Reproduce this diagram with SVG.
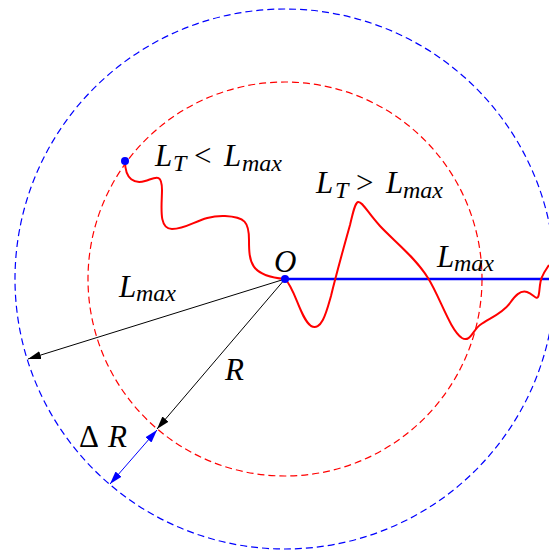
<svg xmlns="http://www.w3.org/2000/svg" width="549" height="551" viewBox="0 0 549 551">
<defs>
<style>
.lbl{font-family:"Liberation Serif","Times New Roman",serif;font-style:italic;font-size:31px;fill:#000}
.sub{font-size:24px}
.up{font-style:normal}
.ring{fill:none;stroke-width:1.2;stroke-dasharray:7,4}
.path{fill:none;stroke:#ff0000;stroke-width:2;stroke-linejoin:round}
</style>
<marker id="ah" markerUnits="userSpaceOnUse" markerWidth="14" markerHeight="10" refX="13" refY="4" orient="auto-start-reverse" viewBox="0 0 14 8">
<path d="M0,0 L13,4 L0,8 z" fill="#000"/>
</marker>
<marker id="ahb" markerUnits="userSpaceOnUse" markerWidth="14" markerHeight="10" refX="13" refY="4" orient="auto-start-reverse" viewBox="0 0 14 8">
<path d="M0,0 L13,4 L0,8 z" fill="#0000ff"/>
</marker>
</defs>
<rect width="549" height="551" fill="#fff"/>
<g id="rings">
<circle class="ring" cx="285" cy="279" r="270" stroke="#0000ff"/>
<circle class="ring" cx="285" cy="279" r="197" stroke="#ff0000"/>
</g>
<g id="connectors">
<line x1="285" y1="279" x2="28" y2="359" stroke="#000" stroke-width="1" marker-end="url(#ah)"/>
<line x1="285" y1="279" x2="157" y2="429" stroke="#000" stroke-width="1" marker-end="url(#ah)"/>
<line x1="157" y1="430" x2="110" y2="484" stroke="#0000ff" stroke-width="1" marker-start="url(#ahb)" marker-end="url(#ahb)"/>
<line x1="285" y1="279" x2="549" y2="279" stroke="#0000ff" stroke-width="2.5"/>
<path class="path" d="M125,161 C125,180 135,184 145,181 C155,178 162,172 162,190 C162,205 158,229 172,229 C190,229 200,215 225,216 C245,217 249,222 249,240 C249,262 250,276 285,279"/>
<path class="path" d="M285,279 C295,288 300,318 311,326 C322,332 327,310 331,296 C336,275 343,250 350,225 C353,212 355,203 358,202 C362,201 368,213 380,226 C395,242 415,257 428,278 C440,297 450,330 462,338 C470,343 473,330 480,325 C490,318 503,313 510,303 C515,296 520,290 527,292 C533,294 536,300 538,297 C540,294 539,283 542,277 C544,272 547,268 549,265"/>
</g>
<g id="node-O">
<circle cx="285" cy="279" r="4" fill="#0000ff"/>
<text class="lbl" x="274" y="272">O</text>
</g>
<g id="node-end">
<circle cx="125" cy="161" r="4" fill="#0000ff"/>
</g>
<g id="label-lt-less">
<text class="lbl" x="155" y="166">L<tspan class="sub" x="173" y="171">T</tspan><tspan class="up" x="194" y="166">&lt;</tspan><tspan x="224" y="166">L</tspan><tspan class="sub" x="242" y="171">max</tspan></text>
</g>
<g id="label-lt-greater">
<text class="lbl" x="316" y="193">L<tspan class="sub" x="335" y="198">T</tspan><tspan class="up" x="356" y="193">&gt;</tspan><tspan x="386" y="193">L</tspan><tspan class="sub" x="403" y="198">max</tspan></text>
</g>
<g id="label-lmax-right">
<text class="lbl" x="437" y="267">L<tspan class="sub" x="454" y="271">max</tspan></text>
</g>
<g id="label-lmax-left">
<text class="lbl" x="119" y="297">L<tspan class="sub" x="136" y="301">max</tspan></text>
</g>
<g id="label-R">
<text class="lbl" x="225" y="380">R</text>
</g>
<g id="label-dR">
<text class="lbl" x="79" y="447"><tspan class="up">Δ</tspan><tspan x="108">R</tspan></text>
</g>
</svg>
